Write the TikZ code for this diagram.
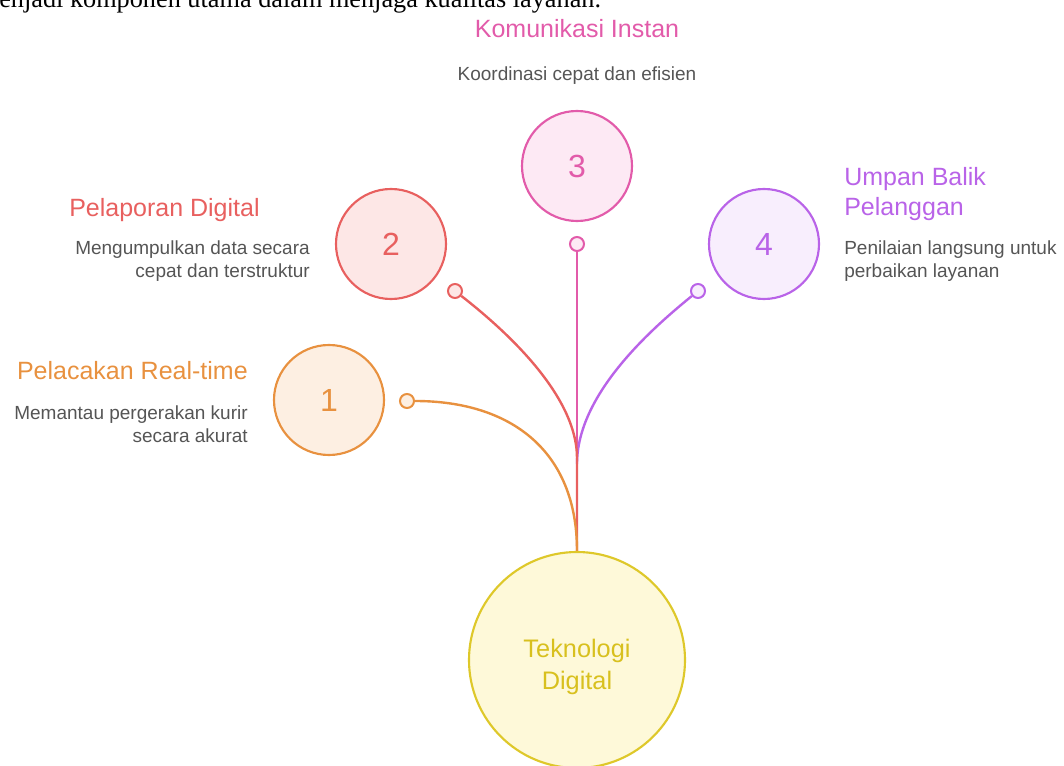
\documentclass[tikz,border=0pt]{standalone}
\usepackage{fontspec}
\setmainfont{Liberation Sans}
\newfontfamily\bodyserif{Liberation Serif}
\definecolor{orangeC}{HTML}{E8913F}
\definecolor{orangeF}{HTML}{FDEFE2}
\definecolor{redC}{HTML}{E8605F}
\definecolor{redF}{HTML}{FDE7E6}
\definecolor{pinkC}{HTML}{E25BAA}
\definecolor{pinkF}{HTML}{FDE9F4}
\definecolor{purpC}{HTML}{B963E8}
\definecolor{purpF}{HTML}{F8EEFD}
\definecolor{yelC}{HTML}{DEC82A}
\definecolor{yelF}{HTML}{FEF9D9}
\definecolor{yelT}{HTML}{D8C01E}
\definecolor{descC}{HTML}{555555}

\begin{document}
\begin{tikzpicture}[x=0.75pt,y=-0.75pt,
    num/.style={circle,draw=#1C,fill=#1F,line width=1.6pt,minimum size=82.5pt,inner sep=0pt,text=#1C,font=\fontsize{24}{28}\selectfont},
    dot/.style={circle,draw=#1C,fill=#1F,line width=1.5pt,minimum size=10.5pt,inner sep=0pt},
    link/.style={draw=#1C,line width=1.8pt},
    ttl/.style={inner sep=0pt,text=#1C,font=\fontsize{18.75}{22.5}\selectfont},
    dsc/.style={inner sep=0pt,text=descC,font=\fontsize{14.25}{17.25}\selectfont}]
                \useasboundingbox (0,0) rectangle (1064,766);
                \node[anchor=base west,inner sep=0pt,font=\bodyserif\fontsize{19.7}{24}\selectfont] (intro) at (-1,7.5) {enjadi komponen utama dalam menjaga kualitas layanan.};
                % hub and the four numbered circles
                \node[circle,draw=yelC,fill=yelF,line width=1.6pt,minimum size=162pt,inner sep=0pt,text=yelT,font=\fontsize{19}{24}\selectfont] (hub) at (577,660) {\raisebox{-10pt}[0pt][0pt]{\begin{tabular}{@{}c@{}}Teknologi\\Digital\end{tabular}}};
                \node[num=orange] (c1) at (329,400) {1};
                \node[num=red] (c2) at (391,244) {2};
                \node[num=pink] (c3) at (577,166) {3};
                \node[num=purp] (c4) at (764,244) {4};
                \node[dot=orange] (s1) at (407,401) {};
                \node[dot=red] (s2) at (455,291) {};
                \node[dot=pink] (s3) at (577,244) {};
                \node[dot=purp] (s4) at (698,291) {};
                \coordinate (j2) at (577,458);
                \coordinate (j4) at (577,464);
                % stems
                \draw[link=pink] (s3) -- (hub);
                \draw[link=purp] (s4) .. controls (650,330) and (577,395) .. (j4);
                \draw[link=red] (s2) .. controls (505,330) and (577,395) .. (j2) -- (hub);
                \draw[link=orange] (s1) .. controls (510,401) and (577,450) .. (hub.north);
                % labels
                \node[ttl=orange,anchor=north east] (t1) at (248,361) {Pelacakan Real-time};
                \node[dsc,anchor=north east,align=right] (d1) at (248,405) {Memantau pergerakan kurir\\secara akurat};
                \node[ttl=red,anchor=north west] (t2) at (69,198) {Pelaporan Digital};
                \node[dsc,anchor=north east,align=right] (d2) at (310,240) {Mengumpulkan data secara\\cepat dan terstruktur};
                \node[ttl=pink,anchor=north] (t3) at (577,19) {Komunikasi Instan};
                \node[dsc,anchor=north] (d3) at (577,66) {Koordinasi cepat dan efisien};
                \node[ttl=purp,anchor=north west,align=left] (t4) at (844,167) {Umpan Balik\\Pelanggan};
                \node[dsc,anchor=north west,align=left] (d4) at (844,240) {Penilaian langsung untuk\\perbaikan layanan};
            \end{tikzpicture}
\end{document}
